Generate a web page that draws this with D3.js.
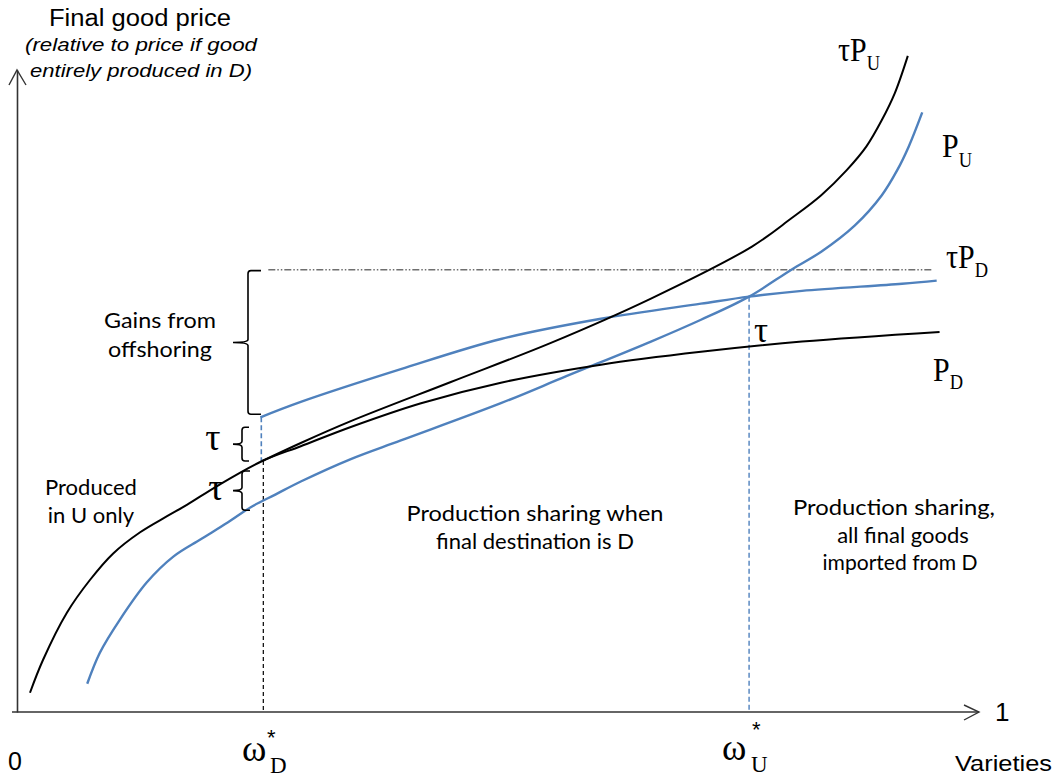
<!DOCTYPE html>
<html>
<head>
<meta charset="utf-8">
<script src="https://cdn.jsdelivr.net/npm/d3@7"></script>
<style>
  html, body { margin: 0; padding: 0; background: #fff; }
  svg { display: block; }
</style>
</head>
<body>
<svg id="chart" width="1060" height="780"></svg>
<script>
// ---- data (x: share of varieties 0..1, y: relative price, arbitrary units) ----
const curvePD = [[0.0135,0.030],[0.027,0.081],[0.052,0.155],[0.076,0.206],[0.100,0.247],[0.128,0.280],[0.156,0.305],[0.177,0.323],[0.208,0.352],[0.255,0.391],[0.295,0.414],[0.347,0.444],[0.420,0.481],[0.503,0.513],[0.607,0.541],[0.711,0.561],[0.816,0.577],[0.959,0.592]];
const curveTauPU = [[0.255,0.391],[0.295,0.419],[0.347,0.453],[0.451,0.514],[0.555,0.575],[0.659,0.644],[0.764,0.725],[0.805,0.769],[0.836,0.805],[0.8625,0.844],[0.883,0.881],[0.899,0.922],[0.9125,0.964],[0.926,1.022]];
const curvePU = [[0.073,0.044],[0.086,0.092],[0.107,0.144],[0.135,0.202],[0.1625,0.242],[0.191,0.269],[0.219,0.295],[0.243,0.319],[0.269,0.339],[0.295,0.359],[0.347,0.394],[0.399,0.423],[0.503,0.481],[0.571,0.523],[0.659,0.577],[0.711,0.611],[0.761,0.647],[0.805,0.689],[0.836,0.717],[0.871,0.758],[0.899,0.805],[0.915,0.844],[0.927,0.881],[0.941,0.934]];
const curveTauPD = [[0.253,0.459],[0.295,0.483],[0.399,0.534],[0.503,0.581],[0.607,0.6125],[0.711,0.636],[0.761,0.647],[0.816,0.656],[0.920,0.667],[0.956,0.672]];
const omegaD = 0.255;
const omegaU = 0.761;
const tauPDLevel = 0.689;           // dash-dot reference level
const tauPDLevelRange = [0.255, 0.951];
const omegaDLevels = { tauPD: 0.459, pd: 0.391, pu: 0.333 };

// ---- scales ----
const svg = d3.select("#chart");
const x = d3.scaleLinear().domain([0, 1]).range([17, 979]);
const y = d3.scaleLinear().domain([0, 1]).range([712, 70]);

const BLUE = "#4f81bd";
const line = d3.line().x(d => x(d[0])).y(d => y(d[1])).curve(d3.curveCatmullRom.alpha(0.5));

// ---- axes (library axes, no ticks) ----
const xAxis = d3.axisBottom(x).tickValues([]).tickSizeOuter(0);
const yAxis = d3.axisLeft(y).tickValues([]).tickSizeOuter(0);
const gx = svg.append("g").attr("transform", `translate(0,${y(0)})`).call(xAxis);
const gy = svg.append("g").attr("transform", `translate(${x(0)},0)`).call(yAxis);
[gx, gy].forEach(g => g.select(".domain").attr("stroke", "#333").attr("stroke-width", 1.6));
gx.select(".domain").attr("d", `M${x(0)-5},0H${x(1)}`);
// arrow heads
svg.append("path")
  .attr("d", `M${x(1)-15},${y(0)-7}L${x(1)},${y(0)}L${x(1)-15},${y(0)+8}`)
  .attr("fill", "none").attr("stroke", "#333").attr("stroke-width", 1.4);
svg.append("path")
  .attr("d", `M${x(0)-8},${y(1)+15}L${x(0)},${y(1)}L${x(0)+9},${y(1)+15}`)
  .attr("fill", "none").attr("stroke", "#333").attr("stroke-width", 1.4);

// ---- reference dash-dot line ----
svg.append("line")
  .attr("x1", x(tauPDLevelRange[0]) + 6).attr("x2", x(tauPDLevelRange[1]))
  .attr("y1", y(tauPDLevel)).attr("y2", y(tauPDLevel))
  .attr("stroke", "#6f6f6f").attr("stroke-width", 1.5)
  .attr("stroke-dasharray", "7,2,1.5,2,1.5,2");

// ---- vertical dashed lines ----
svg.append("line")
  .attr("x1", x(omegaD) + 1).attr("x2", x(omegaD) + 1)
  .attr("y1", y(omegaDLevels.pd)).attr("y2", y(0))
  .attr("stroke", "#000").attr("stroke-width", 1.2).attr("stroke-dasharray", "4,3");
svg.append("line")
  .attr("x1", x(omegaD) - 1).attr("x2", x(omegaD) - 1)
  .attr("y1", y(omegaDLevels.tauPD)).attr("y2", y(omegaDLevels.pd))
  .attr("stroke", BLUE).attr("stroke-width", 1.6).attr("stroke-dasharray", "5,3");
svg.append("line")
  .attr("x1", x(omegaU)).attr("x2", x(omegaU))
  .attr("y1", y(0.647)).attr("y2", y(0))
  .attr("stroke", BLUE).attr("stroke-width", 1.4).attr("stroke-dasharray", "5,3");

// ---- curves ----
svg.append("path").datum(curvePU).attr("d", line)
  .attr("fill", "none").attr("stroke", BLUE).attr("stroke-width", 2.4);
svg.append("path").datum(curveTauPD).attr("d", line)
  .attr("fill", "none").attr("stroke", BLUE).attr("stroke-width", 2.4);
svg.append("path").datum(curvePD).attr("d", line)
  .attr("fill", "none").attr("stroke", "#000").attr("stroke-width", 2);
svg.append("path").datum(curveTauPU).attr("d", line)
  .attr("fill", "none").attr("stroke", "#000").attr("stroke-width", 2);

// ---- braces ----
function brace(xv, y0, y1, tipX, hookX) {
  const ym = (y0 + y1) / 2, r = 3;
  return `M${hookX},${y0} L${xv+r},${y0} Q${xv},${y0} ${xv},${y0+r} L${xv},${ym-3} Q${xv},${ym} ${tipX},${ym} Q${xv},${ym} ${xv},${ym+3} L${xv},${y1-r} Q${xv},${y1} ${xv+r},${y1} L${hookX},${y1}`;
}
const braceStyle = p => p.attr("fill", "none").attr("stroke", "#000").attr("stroke-width", 1.6);
svg.append("path").attr("d", brace(248, y(tauPDLevel) + 1, y(omegaDLevels.tauPD) - 3, 233, 261)).call(braceStyle);
svg.append("path").attr("d", brace(242, y(omegaDLevels.tauPD) + 10, y(omegaDLevels.pd), 233, 249)).call(braceStyle);
svg.append("path").attr("d", brace(242, y(omegaDLevels.pd) + 10, y(omegaDLevels.pu) + 12, 233, 250)).call(braceStyle);

// ---- text ----
const sans = "'Liberation Sans', Arial, sans-serif";
const cal = "Lato, 'Open Sans', sans-serif";
const serif = "'Liberation Serif', 'Times New Roman', serif";

function txt(t, px, py, opts = {}) {
  const el = svg.append("text").attr("x", px).attr("y", py).text(t)
    .attr("font-family", opts.family || sans)
    .attr("font-size", opts.size || 20)
    .attr("fill", "#000")
    .attr("text-anchor", opts.anchor || "start");
  if (opts.italic) el.attr("font-style", "italic");
  if (opts.len) el.attr("textLength", opts.len).attr("lengthAdjust", "spacingAndGlyphs");
  return el;
}

// y-axis title
txt("Final good price", 140, 26, { size: 23, anchor: "middle", len: 182 });
txt("(relative to price if good", 141, 51, { size: 19, anchor: "middle", italic: true, len: 232 });
txt("entirely produced in D)", 141, 77, { size: 19, anchor: "middle", italic: true, len: 222 });

// region annotations
txt("Gains from", 160, 328, { family: cal, size: 22, anchor: "middle", len: 112 });
txt("offshoring", 160, 357, { family: cal, size: 22, anchor: "middle", len: 104 });
txt("Produced", 91, 495, { family: cal, size: 22, anchor: "middle" });
txt("in U only", 91, 523, { family: cal, size: 22, anchor: "middle" });
txt("Production sharing when", 535, 521, { family: cal, size: 22, anchor: "middle", len: 257 });
txt("final destination is D", 535, 549, { family: cal, size: 22, anchor: "middle" });
txt("Production sharing,", 894, 515, { family: cal, size: 22, anchor: "middle", len: 202 });
txt("all final goods", 903, 543, { family: cal, size: 22, anchor: "middle" });
txt("imported from D", 900, 570, { family: cal, size: 22, anchor: "middle", len: 155 });

// tau labels
txt("τ", 213, 450, { family: serif, size: 38, anchor: "middle" });
txt("τ", 216, 500, { family: serif, size: 38, anchor: "middle" });
txt("τ", 761, 342, { family: serif, size: 35, anchor: "middle" });

// curve labels with subscripts
function subLabel(main, sub, px, py, size, subSize, subDy) {
  const t = svg.append("text").attr("x", px).attr("y", py)
    .attr("font-family", serif).attr("font-size", size).attr("fill", "#000")
    .attr("transform", `translate(${px},${py}) scale(0.88,1) translate(${-px},${-py})`);
  t.append("tspan").text(main);
  t.append("tspan").text(sub).attr("font-size", subSize).attr("dy", subDy);
  return t;
}
subLabel("τP", "U", 838, 61, 34, 21, 9);
subLabel("P", "U", 942, 157, 34, 21, 10);
subLabel("τP", "D", 946, 268, 34, 21, 9);
subLabel("P", "D", 933, 381, 34, 21, 8);

// x-axis labels
txt("0", 8, 770, { size: 25 });
txt("1", 995, 721, { size: 26 });
txt("Varieties", 955, 771, { size: 22, len: 97 });

function omegaLabel(sub, px, py, subDx, starX, starY) {
  svg.append("text").attr("x", px).attr("y", py).text("ω")
    .attr("font-family", serif).attr("font-size", 37).attr("fill", "#000");
  svg.append("text").attr("x", px + subDx).attr("y", py + 12).text(sub)
    .attr("font-family", serif).attr("font-size", 23).attr("fill", "#000");
  svg.append("text").attr("x", starX).attr("y", starY).text("*")
    .attr("font-family", sans).attr("font-size", 22).attr("fill", "#000");
}
omegaLabel("D", 242, 761, 28, 267, 745);
omegaLabel("U", 722, 760, 29, 752, 737);
</script>
</body>
</html>
